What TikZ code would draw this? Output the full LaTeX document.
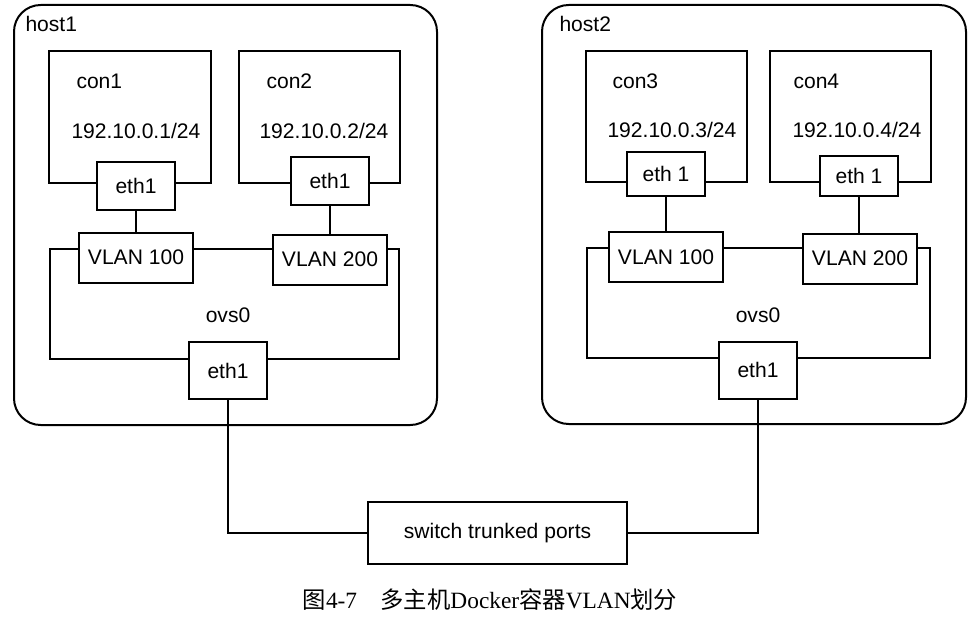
\documentclass[tikz,border=0pt]{standalone}
\usepackage{fontspec}
\setmainfont{Liberation Sans}
\newfontfamily\capserif{Liberation Serif}
\newfontfamily\cjk{Noto Sans CJK SC}

\tikzset{every picture/.style={line width=0.75pt}}
\tikzset{
  lbl/.style={font=\fontsize{15.8}{19}\selectfont, inner sep=0pt},
  port/.style={draw, fill=white, line width=1.5pt, inner sep=0pt, font=\fontsize{15.8}{19}\selectfont},
  ethbox/.style={port, minimum width=59pt, minimum height=36pt},
  vlanbox/.style={port, minimum width=85.5pt, minimum height=37.5pt},
  upbox/.style={port, minimum width=58.5pt, minimum height=42.75pt},
  wire/.style={line width=0.9pt}
}

\begin{document}
\begin{tikzpicture}[x=0.75pt,y=0.75pt,yscale=-1,xscale=1]
			\useasboundingbox (0,0) rectangle (980,620);

			%Shape: Rounded Rect [id:host1]
			\draw [line width=1.5pt, rounded corners=20pt] (14,5) rectangle (437,425) ;
			%Shape: Rounded Rect [id:host2]
			\draw [line width=1.5pt, rounded corners=20pt] (542,5) rectangle (966,424) ;

			%Shape: Rectangle [id:con1]
			\draw [line width=1.5pt] (49,51) rectangle (211,183) ;
			%Shape: Rectangle [id:con2]
			\draw [line width=1.5pt] (239,51) rectangle (400,183) ;
			%Shape: Rectangle [id:con3]
			\draw [line width=1.5pt] (586,51) rectangle (747,182) ;
			%Shape: Rectangle [id:con4]
			\draw [line width=1.5pt] (770,51) rectangle (931,182) ;

			%Shape: Rectangle [id:ovs0 host1]
			\draw [line width=1.5pt] (50,249) rectangle (399,359) ;
			%Shape: Rectangle [id:ovs0 host2]
			\draw [line width=1.5pt] (587,248) rectangle (930,358) ;

			% Text Node
			\draw (25,24) node [lbl, anchor=west] (lblhost1) {host1};
			\draw (559,24) node [lbl, anchor=west] (lblhost2) {host2};
			% Text Node
			\draw (76,81) node [lbl, anchor=west] (lblcon1) {con1};
			\draw (71,131) node [lbl, anchor=west] (ipcon1) {192.10.0.1/24};
			\draw (266,81) node [lbl, anchor=west] (lblcon2) {con2};
			\draw (259,131) node [lbl, anchor=west] (ipcon2) {192.10.0.2/24};
			\draw (612,81) node [lbl, anchor=west] (lblcon3) {con3};
			\draw (607,130) node [lbl, anchor=west] (ipcon3) {192.10.0.3/24};
			\draw (793,81) node [lbl, anchor=west] (lblcon4) {con4};
			\draw (792,130) node [lbl, anchor=west] (ipcon4) {192.10.0.4/24};
			% Text Node
			\draw (228,315) node [lbl] (lblovsa) {ovs0};
			\draw (758,315) node [lbl] (lblovsb) {ovs0};

			% Ports
			\node [ethbox] (ethcona) at (136,186) {eth1};
			\node [ethbox] (ethconb) at (330,181) {eth1};
			\node [ethbox, minimum height=33pt] (ethconc) at (666,174) {eth 1};
			\node [ethbox, minimum height=30pt] (ethcond) at (859,176) {eth 1};

			\node [vlanbox] (vlana) at (136,257.5) {VLAN 100};
			\node [vlanbox] (vlanb) at (330,259.5) {VLAN 200};
			\node [vlanbox] (vlanc) at (666,257) {VLAN 100};
			\node [vlanbox] (vland) at (860,258.5) {VLAN 200};

			\node [upbox] (upa) at (228,370.5) {eth1};
			\node [upbox] (upb) at (758,370) {eth1};

			\node [port, minimum width=194pt, minimum height=46.5pt] (switch) at (497.5,533) {switch trunked ports};

			%Straight Lines
			\draw [line width=1.5pt] (ethcona) -- (vlana.north -| ethcona) ;
			\draw [wire] (ethconb) -- (vlanb.north -| ethconb) ;
			\draw [wire] (ethconc) -- (vlanc.north -| ethconc) ;
			\draw [wire] (ethcond) -- (vland.north -| ethcond) ;
			\draw [wire] (upa.south) |- (switch.west) ;
			\draw [wire] (upb.south) |- (switch.east) ;

			% Text Node
			\draw (490,600) node [inner sep=0pt, font=\fontsize{17.5}{21}\selectfont] (caption) {{\cjk 图}{\capserif 4-7}\hspace{1em}{\cjk 多主机}{\capserif Docker}{\cjk 容器}{\capserif VLAN}{\cjk 划分}};

		\end{tikzpicture}
\end{document}
